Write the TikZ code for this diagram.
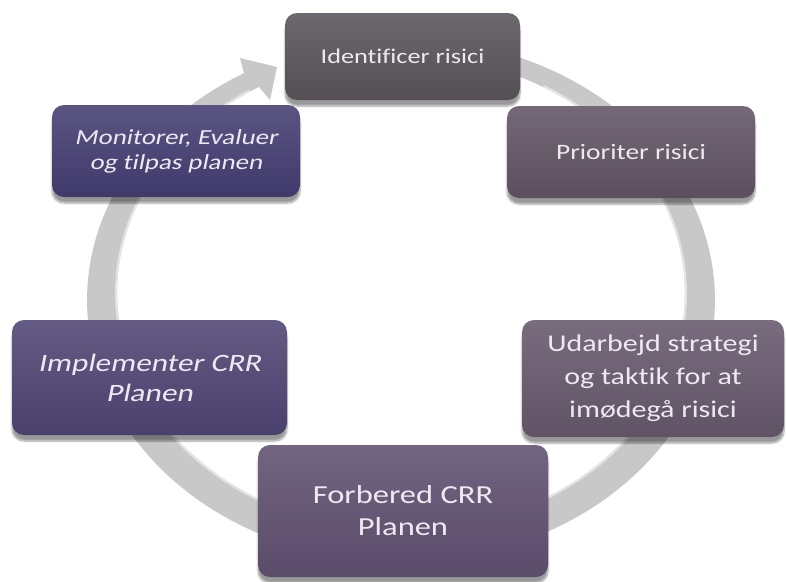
\documentclass[tikz,border=0pt]{standalone}
\usepackage{fontspec}
\setmainfont{Carlito}[FakeStretch=1.25,Ligatures=NoCommon]
\newfontfamily\slfont{Carlito}[FakeStretch=1.25,FakeSlant=0.2,Ligatures=NoCommon]
\usetikzlibrary{shadows.blur}
\definecolor{ringgray}{HTML}{C8C8C8}
\definecolor{ringlight}{HTML}{E4E4E4}
\definecolor{boxtext}{HTML}{ECEAF0}
\definecolor{cA}{HTML}{59535A}
\definecolor{cB}{HTML}{615463}
\definecolor{cC}{HTML}{66586C}
\definecolor{cD}{HTML}{5F5070}
\definecolor{cE}{HTML}{4E4573}
\definecolor{cF}{HTML}{443D72}
\begin{document}
\begin{tikzpicture}[x=1pt,y=-1pt,
  box/.style={rounded corners=12pt, inner sep=0pt, align=center, text=boxtext,
    top color=#1!88!white, bottom color=#1!94!black,
    blur shadow={shadow xshift=0pt, shadow yshift=-6pt, shadow opacity=40, shadow blur steps=6}},
]
\useasboundingbox (0,0) rectangle (786,581);
% ring with arrow
\fill[ringgray]
  plot[domain=-80:240,samples=140] ({401+314*cos(\x)},{300+262*sin(\x)})
  -- (240,58) -- (277,67) -- (270,100)
  -- plot[domain=240:-80,samples=140] ({401+284*cos(\x)},{293+238*sin(\x)})
  -- cycle;
\draw[ringlight, line width=2pt]
  plot[domain=-60:238,samples=140] ({401+285*cos(\x)},{293+239*sin(\x)});
% boxes
\node[box=cA, minimum width=235, minimum height=87, font=\fontsize{21}{26}\selectfont] (b1) at (402.5,56.5)
  {Identificer risici};
\node[box=cB, minimum width=248, minimum height=92, font=\fontsize{22}{27}\selectfont] (b2) at (631,152)
  {Prioriter risici};
\node[box=cC, minimum width=262, minimum height=117, font=\fontsize{24}{33}\selectfont] (b3) at (653,378.5)
  {Udarbejd strategi\\og taktik for at\\imødegå risici};
\node[box=cD, minimum width=290, minimum height=132, font=\fontsize{26}{32}\selectfont] (b4) at (403,511)
  {Forbered CRR\\Planen};
\node[box=cE, minimum width=275, minimum height=115, font=\slfont\fontsize{25}{30}\selectfont] (b5) at (149.5,377.5)
  {Implementer CRR\\Planen};
\node[box=cF, minimum width=248, minimum height=92, font=\slfont\fontsize{21.5}{25}\selectfont] (b6) at (176,151)
  {Monitorer, Evaluer\\og tilpas planen};
\end{tikzpicture}
\end{document}
